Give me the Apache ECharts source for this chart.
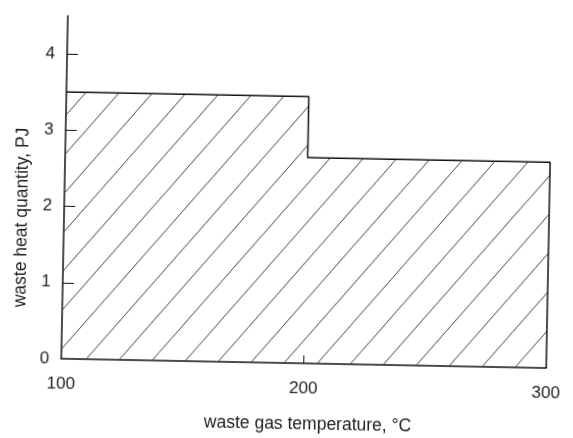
<!DOCTYPE html>
<html>
<head>
<meta charset="utf-8">
<script src="https://cdn.jsdelivr.net/npm/echarts@6/dist/echarts.min.js"></script>
<style>
  html, body { margin: 0; padding: 0; background: #fff; }
  #chart { width: 573px; height: 438px; transform: rotate(1.1deg); transform-origin: 50% 50%; }
</style>
</head>
<body>
<div id="chart"></div>
<script>
// Waste heat available per temperature band (step profile)
const temperatures = [100, 200, 200, 300, 300];
const heatQuantity = [3.5, 3.5, 2.7, 2.7, 0];
const xTickValues = [100, 200, 300];
const yTickValues = [0, 1, 2, 3, 4];

// Diagonal hatching tile
function hatchPattern(w, h) {
  const c = document.createElement('canvas');
  c.width = w; c.height = h;
  const g = c.getContext('2d');
  g.strokeStyle = '#444';
  g.lineWidth = 1;
  g.beginPath();
  g.moveTo(0, h); g.lineTo(w, 0);
  g.moveTo(-w, h); g.lineTo(0, 0);
  g.moveTo(w, 2 * h); g.lineTo(2 * w, h);
  g.moveTo(-1, 1); g.lineTo(1, -1);
  g.moveTo(w - 1, h + 1); g.lineTo(w + 1, h - 1);
  g.stroke();
  return c;
}

const chart = echarts.init(document.getElementById('chart'));
const font = 'Liberation Sans, Arial, sans-serif';
chart.setOption({
  animation: false,
  grid: { left: 64, right: 24, top: 20, bottom: 72 },
  xAxis: {
    type: 'value',
    min: 100, max: 300,
    name: 'waste gas temperature, °C',
    nameLocation: 'middle',
    nameGap: 52,
    nameTextStyle: { color: '#222', fontSize: 17.5, fontFamily: font, padding: [0, 0, 0, 10] },
    axisLine: { lineStyle: { color: '#111', width: 1.5 } },
    axisTick: { show: true, inside: true, length: 8, customValues: [200], lineStyle: { color: '#111' } },
    axisLabel: { customValues: xTickValues, color: '#222', fontSize: 17, fontFamily: font, margin: 17 },
    splitLine: { show: false }
  },
  yAxis: {
    type: 'value',
    min: 0, max: 4.5,
    name: 'waste heat quantity, PJ',
    nameLocation: 'middle',
    nameGap: 31,
    nameRotate: 90,
    nameTextStyle: { color: '#222', fontSize: 17.5, fontFamily: font, padding: [0, 62, 0, 0] },
    axisLine: { show: true, lineStyle: { color: '#111', width: 1.5 } },
    axisTick: { show: true, inside: true, length: 11, customValues: [1, 2, 3, 4], lineStyle: { color: '#111' } },
    axisLabel: { customValues: yTickValues, color: '#222', fontSize: 17, fontFamily: font, margin: 12 },
    splitLine: { show: false }
  },
  series: [{
    type: 'line',
    data: temperatures.map((t, i) => [t, heatQuantity[i]]),
    symbol: 'none',
    lineStyle: { color: '#111', width: 1.5 },
    areaStyle: { color: { image: hatchPattern(33, 39), repeat: 'repeat' }, opacity: 1 }
  }]
});
</script>
</body>
</html>
